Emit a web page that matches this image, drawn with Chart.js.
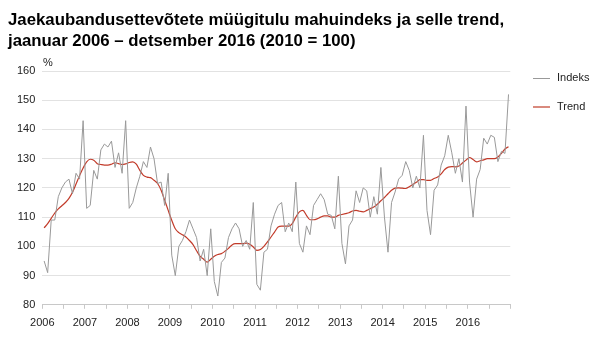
<!doctype html>
<html>

<head>
    <title>Jaekaubandus</title>
    <script src="https://cdn.jsdelivr.net/npm/chart.js"></script>
</head>

<style>
    body {
        margin: 0;
        font-family: 'Liberation Sans', Arial, sans-serif;
    }

    .wrap {
        position: relative;
        width: 599px;
        height: 343px;
        background: #fff;
    }

    .title {
        position: absolute;
        left: 8px;
        top: 9px;
        font-size: 16.8px;
        line-height: 21px;
        font-weight: bold;
        color: #000;
        white-space: nowrap;
    }

    .unit {
        position: absolute;
        left: 43px;
        top: 56px;
        font-size: 11px;
        color: #222;
    }

    .legend {
        position: absolute;
        left: 533px;
        font-size: 11px;
        color: #222;
        line-height: 13px;
    }

    .legend span {
        display: inline-block;
        width: 17px;
        vertical-align: middle;
        margin-right: 7px;
    }
</style>

<body>
    <div class="wrap">
        <div class="title">Jaekaubandusettevõtete müügitulu mahuindeks ja selle trend,<br>jaanuar 2006 – detsember 2016 (2010 = 100)</div>
        <div class="unit">%</div>
        <div class="legend" style="top: 71px;"><span style="border-top: 1px solid #999;"></span>Indeks</div>
        <div class="legend" style="top: 100px;"><span style="border-top: 2px solid #d98a7e;"></span>Trend</div>
        <canvas id="graafik"></canvas>
    </div>

    <script>
        var aastad = ['2006', '2007', '2008', '2009', '2010', '2011', '2012', '2013', '2014', '2015', '2016'];

        // kuised väärtused, jaanuar 2006 - detsember 2016
        var indeks = [
            95, 91, 109, 109, 117, 120, 122, 123, 118, 125, 123, 143,
            113, 114, 126, 123, 133, 135, 134, 136, 127, 132, 125, 143,
            113, 115, 120, 124, 129, 127, 134, 130, 121.5, 122, 114, 125,
            97, 90, 100, 102, 105, 109, 106, 103, 95, 99, 90, 106,
            88, 83, 94.5, 96, 103, 106, 108, 106, 100, 102, 99, 115,
            87, 85, 98, 99, 107, 111, 114, 115, 105, 108, 105, 122,
            101, 98, 107, 104, 114, 116, 118, 116, 111, 110.6, 106, 124,
            101, 94, 107, 109, 119, 115, 120, 119, 110, 117, 111, 127,
            110, 98, 115, 118.6, 123, 124.3, 129, 126, 120, 124, 120, 138,
            112.3, 104, 119.2, 121, 127.8, 131, 138, 132, 125, 130, 122, 148,
            122, 110, 123, 126.3, 137, 135, 138, 137.3, 129, 132.5, 131.8, 152
        ];

        var trend = [
            106.3, 107.8, 109.6, 111.4, 112.8, 113.9, 115.0, 116.4, 118.5, 121.3, 124.2, 126.8,
            128.9, 129.8, 129.5, 128.3, 128.0, 127.8, 127.8, 128.1, 128.6, 128.3, 128.0, 128.2,
            128.7, 128.9, 128.1, 126.0, 124.3, 123.7, 123.5, 122.6, 121.5, 119.2, 115.8, 112.3,
            108.9, 106.0, 104.7, 104.0, 103.2, 102.0, 100.6, 98.5, 96.6, 95.6, 94.6, 95.6,
            96.6, 97.2, 97.5, 98.3, 99.3, 100.5, 100.9, 100.9, 100.9, 101.1, 100.7, 99.8,
            98.6, 98.9, 100.0, 101.5, 103.2, 104.9, 106.6, 106.9, 106.9, 106.9, 107.8, 110.0,
            111.8, 112.3, 110.6, 109.1, 109.1, 109.4, 110.0, 110.4, 110.4, 110.0, 110.0, 110.6,
            110.9, 111.2, 111.5, 112.1, 112.3, 112.0, 111.8, 112.3, 112.9, 113.5, 114.4, 115.6,
            116.7, 118.0, 119.2, 119.9, 120.0, 119.9, 119.8, 120.4, 121.2, 121.9, 122.8, 122.8,
            122.6, 122.6, 123.2, 123.7, 124.8, 126.3, 127.1, 127.3, 127.2, 127.5, 128.5, 129.5,
            130.4, 129.7, 128.9, 129.3, 129.6, 130.0, 130.0, 130.0, 130.6, 131.8, 133.3, 134.1
        ];

        // punktid kuu keskele
        function punktid(arr) {
            return arr.map((v, i) => ({ x: i + 0.5, y: v }));
        }

        var graafik = new Chart(document.getElementById('graafik').getContext('2d'), {
            type: 'line',
            data: {
                datasets: [{
                    label: 'Indeks',
                    data: punktid(indeks),
                    borderColor: '#999',
                    borderWidth: 1,
                    pointRadius: 0,
                    tension: 0
                }, {
                    label: 'Trend',
                    data: punktid(trend),
                    borderColor: '#c23b2a',
                    borderWidth: 1.2,
                    pointRadius: 0,
                    cubicInterpolationMode: 'monotone'
                }]
            },
            options: {
                responsive: true,
                maintainAspectRatio: false,
                animation: false,
                layout: {
                    padding: { top: 71, left: 10, right: 88.7, bottom: 5 }
                },
                plugins: {
                    legend: { display: false },
                    tooltip: { enabled: false }
                },
                scales: {
                    x: {
                        type: 'linear',
                        min: 0,
                        max: aastad.length * 12,
                        ticks: {
                            stepSize: 6,
                            autoSkip: false,
                            maxRotation: 0,
                            padding: 8,
                            color: '#222',
                            font: { size: 11, family: "'Liberation Sans', Arial, sans-serif" },
                            callback: (v) => (v % 12 === 0 && v / 12 < aastad.length) ? aastad[v / 12] : ''
                        },
                        grid: {
                            drawOnChartArea: false,
                            drawTicks: true,
                            tickLength: 4,
                            color: '#c8c8c8'
                        },
                        border: { color: '#c8c8c8' }
                    },
                    y: {
                        min: 80,
                        max: 160,
                        ticks: {
                            stepSize: 10,
                            padding: 7,
                            color: '#222',
                            font: { size: 11, family: "'Liberation Sans', Arial, sans-serif" }
                        },
                        grid: {
                            drawTicks: false,
                            color: '#e2e2e2'
                        },
                        border: { display: false }
                    }
                }
            }
        });
    </script>
</body>

</html>
